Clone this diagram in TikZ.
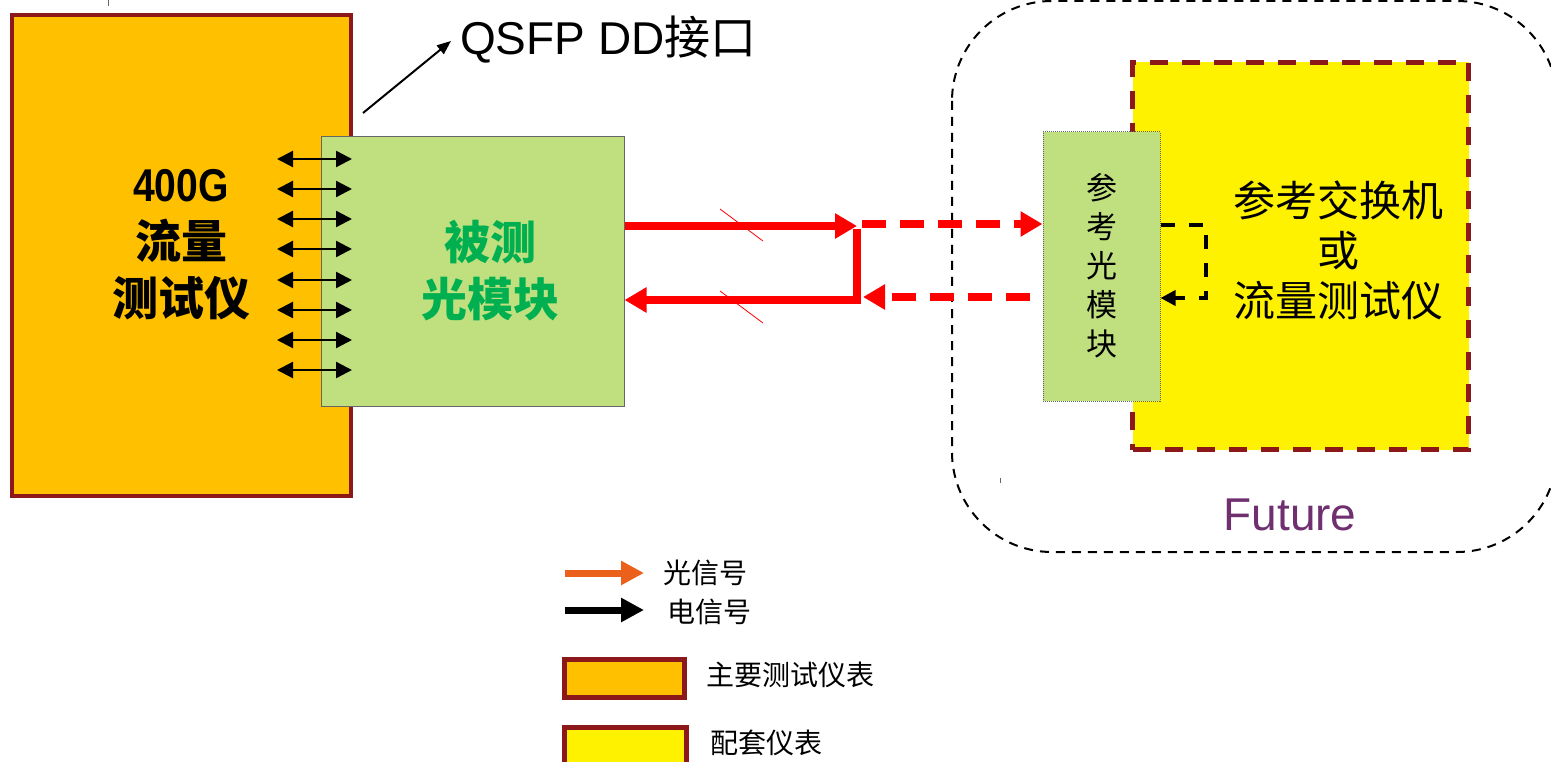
\documentclass[tikz,border=0pt]{standalone}
\usepackage{fontspec}
\setmainfont{Liberation Sans}
\newfontfamily\cjk{Noto Sans CJK SC}
\usetikzlibrary{arrows.meta}
\definecolor{bordred}{RGB}{140,24,26}
\definecolor{orangefill}{RGB}{255,192,0}
\definecolor{modgreen}{RGB}{192,224,128}
\definecolor{txtgreen}{RGB}{0,176,80}
\definecolor{sigred}{RGB}{255,0,0}
\definecolor{legorange}{RGB}{235,97,27}
\definecolor{futpurple}{RGB}{112,48,112}
\tikzset{
  mainbox/.style={draw=bordred, line width=4pt, fill=orangefill, inner sep=0pt},
  dutbox/.style={draw=black!60, line width=1pt, fill=modgreen, inner sep=0pt},
  refbox/.style={draw=black!60, line width=1pt, densely dotted, fill=modgreen, inner sep=0pt},
  auxbox/.style={draw=bordred, line width=5pt, dash pattern=on 18pt off 14pt, fill=yellow, inner sep=0pt},
  dblarrow/.style={line width=2.4pt, {Triangle[length=16pt,width=16pt]}-{Triangle[length=16pt,width=16pt]}},
  redarrow/.style={draw=sigred, line width=8pt, -{Triangle[length=22pt,width=24pt]}},
  reddash/.style={draw=sigred, line width=8pt, dash pattern=on 24pt off 14pt, -{Triangle[length=22pt,width=24pt]}},
  loopdash/.style={line width=3.5pt, dash pattern=on 14pt off 14pt, -{Triangle[length=15pt,width=15pt]}},
  legarrow/.style={line width=7pt, -{Triangle[length=23pt,width=23pt]}},
  legbox/.style={draw=bordred, line width=5pt, inner sep=0pt, minimum width=120pt, minimum height=38pt},
}
\begin{document}
\begin{tikzpicture}[x=1pt,y=-1pt]
\useasboundingbox (0,0) rectangle (1551,762);
% future region
\draw[line width=2pt, dash pattern=on 9pt off 7pt, rounded corners=100pt] (952,1) rectangle (1557,552);
% tiny artefacts
\draw[line width=1pt, black!60] (108,0) -- (108,6);
\draw[line width=1pt, black!60] (1000,478) -- (1000,483);
% main tester
\node[mainbox, minimum width=339pt, minimum height=481pt] (tester) at (181.5,255.5) {};
\node[font=\fontsize{46}{57}\selectfont\cjk\bfseries, align=center] (testertxt) at (181,245)
  {\rmfamily\bfseries\scalebox{0.85}[1]{400G}\\流量\\测试仪};
% DUT module
\node[dutbox, minimum width=303pt, minimum height=269pt] (dut) at (472.5,271.5) {};
\node[font=\fontsize{46}{57}\selectfont\cjk\bfseries, text=txtgreen, align=center] (duttxt) at (490,271) {被测\\光模块};
% electrical double arrows
\foreach \i/\yy in {1/159,2/189,3/219,4/249,5/280,6/310,7/340,8/370}{
  \coordinate (ea\i) at (277,\yy);
  \coordinate (eb\i) at (352,\yy);
  \draw[dblarrow] (ea\i) -- (eb\i);
}
% QSFP label
\node[font=\fontsize{46}{50}\selectfont, anchor=west, inner sep=0pt] (qsfp) at (460,40) {QSFP DD{\cjk 接口}};
\coordinate (qa) at (363,113);
\coordinate (qb) at (451,41);
\draw[line width=2pt, -{Triangle[length=14pt,width=11pt]}] (qa) -- (qb);
% auxiliary instrument
\node[auxbox, minimum width=336pt, minimum height=387pt] (aux) at (1300.5,256) {};
\node[font=\fontsize{42}{50}\selectfont\cjk, align=center] (auxtxt) at (1338,250) {参考交换机\\或\\流量测试仪};
% reference module
\node[refbox, minimum width=117pt, minimum height=269pt] (ref) at (1101.5,266.5) {};
\node[font=\fontsize{31}{39}\selectfont\cjk, align=center] (reftxt) at (1102,266) {参\\考\\光\\模\\块};
% optical red links
\coordinate (j1) at (857,226);
\coordinate (j2) at (857,300);
\draw[redarrow] (dut.east |- 0,226) -- (j1);
\draw[draw=sigred, line width=8pt] (857,229) -- (j2 |- 0,303);
\draw[redarrow] (861,300) -- (dut.east |- 0,300);
\draw[reddash] (862,224) -- (ref.west |- 0,224);
\draw[reddash] (1030,297) -- (863,297);
\draw[sigred, line width=0.8pt] (720,209) -- (763,241);
\draw[sigred, line width=0.8pt] (720,291) -- (763,323);
% loopback
\draw[loopdash] (ref.east |- 0,225) -- (1206,225) -- (1206,298) -- (ref.east |- 0,298);
% Future label
\node[font=\fontsize{46}{50}\selectfont, text=futpurple] (fut) at (1290,515) {Future};
% legend
\coordinate (l1a) at (565,573); \coordinate (l1b) at (644,573);
\coordinate (l2a) at (565,610); \coordinate (l2b) at (644,610);
\draw[legarrow, legorange] (l1a) -- (l1b);
\draw[legarrow, black] (l2a) -- (l2b);
\node[font=\fontsize{28}{30}\selectfont\cjk, anchor=west, inner sep=0pt] (lg1) at (663,573) {光信号};
\node[font=\fontsize{28}{30}\selectfont\cjk, anchor=west, inner sep=0pt] (lg2) at (667,612) {电信号};
\node[legbox, fill=orangefill] (lb1) at (624.5,678.5) {};
\node[font=\fontsize{28}{30}\selectfont\cjk, anchor=west, inner sep=0pt] (lg3) at (706,675) {主要测试仪表};
\node[legbox, fill=yellow, minimum width=122pt] (lb2) at (625.5,746) {};
\node[font=\fontsize{28}{30}\selectfont\cjk, anchor=west, inner sep=0pt] (lg4) at (710,743) {配套仪表};
\end{tikzpicture}
\end{document}
